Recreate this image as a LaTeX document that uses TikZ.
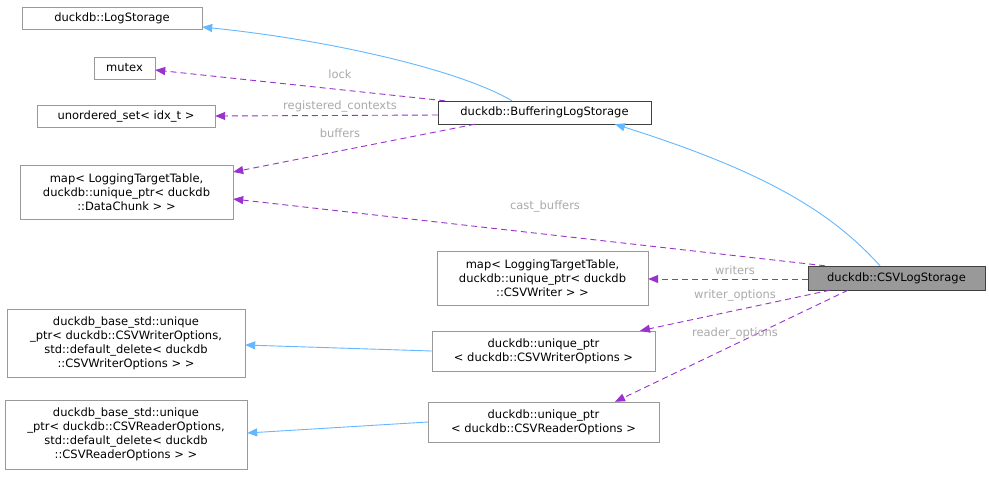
\documentclass[tikz,border=0pt]{standalone}
\usepackage{fontspec}
\setmainfont{DejaVu Sans}
\usetikzlibrary{arrows.meta}
\definecolor{ib}{RGB}{99,184,255}
\definecolor{up}{RGB}{154,50,205}
\definecolor{lg}{RGB}{170,170,170}
\begin{document}
\begin{tikzpicture}[x=1pt,y=-1pt,
  box/.style={draw=black!40,fill=white,inner sep=0pt},
  tx/.style={font=\fontsize{11.5}{14}\selectfont,align=center,inner sep=0pt},
  inh/.style={draw=ib,line width=0.9pt,-{Triangle[length=10pt,width=8pt,fill=ib]}},
  use/.style={draw=up,line width=0.9pt,dash pattern=on 6pt off 4pt,-{Triangle[length=10pt,width=8pt,fill=up]}},
  lab/.style={text=lg,font=\fontsize{11.5}{14}\selectfont,inner sep=1pt}]
\useasboundingbox[fill=white] (0,0) rectangle (989,477);
\newcommand\bx[6]{\node[box,#6,minimum width={#4-#2},minimum height={#5-#3}] (#1) at ({(#2+#4)/2},{(#3+#5)/2}) {};}
\bx{ls}{22}{7}{202}{29}{}
\node[tx] at (ls) {duckdb::LogStorage};
\bx{mu}{94}{57}{155}{79}{}
\node[tx] at (mu) {mutex};
\bx{us}{37}{105}{215}{127}{}
\node[tx] at (us) {unordered\_set< idx\_t >};
\bx{mb}{20}{165}{233}{219}{}
\node[tx] at (mb) {map< LoggingTargetTable,\\ duckdb::unique\_ptr< duckdb\\::DataChunk > >};
\bx{bl}{438}{101}{651}{124}{draw=black!75}
\node[tx] at (bl) {duckdb::BufferingLogStorage};
\bx{cs}{808}{266}{985}{290}{draw=black!75,fill=black!40}
\node[tx] at (cs) {duckdb::CSVLogStorage};
\bx{mw}{437}{251}{648}{305}{}
\node[tx] at (mw) {map< LoggingTargetTable,\\ duckdb::unique\_ptr< duckdb\\::CSVWriter > >};
\bx{wo}{432}{331}{655}{371}{}
\node[tx] at (wo) {duckdb::unique\_ptr\\< duckdb::CSVWriterOptions >};
\bx{bw}{7}{309}{245}{377}{}
\node[tx] at (bw) {duckdb\_base\_std::unique\\\_ptr< duckdb::CSVWriterOptions,\\ std::default\_delete< duckdb\\::CSVWriterOptions > >};
\bx{ro}{428}{402}{659}{442}{}
\node[tx] at (ro) {duckdb::unique\_ptr\\< duckdb::CSVReaderOptions >};
\bx{br}{5}{400}{247}{469}{}
\node[tx] at (br) {duckdb\_base\_std::unique\\\_ptr< duckdb::CSVReaderOptions,\\ std::default\_delete< duckdb\\::CSVReaderOptions > >};
% edges
\draw[inh] (bl.north -| 512,0) .. controls (460,70) and (330,40) .. (ls.east |- 0,27);
\draw[inh] (cs.north -| 880,0) .. controls (830,210) and (760,170) .. (bl.south -| 615,0);
\draw[inh] (wo.west) -- (bw.east |- 0,345);
\draw[inh] (ro.west) -- (br.east |- 0,433);
\draw[use] (bl.north -| 445,0) -- (mu.east |- 0,70);
\node[lab] at (340,74) {lock};
\draw[use] (bl.west |- 0,115) -- (us.east |- 0,116);
\node[lab] at (340,106) {registered\_contexts};
\draw[use] (bl.south -| 475,0) -- (mb.east |- 0,172);
\node[lab] at (340,133) {buffers};
\draw[use] (cs.north -| 825,0) -- (mb.east |- 0,199);
\node[lab] at (545,206) {cast\_buffers};
\draw[use] (cs.west |- 0,279) -- (mw.east |- 0,279);
\node[lab] at (735,270) {writers};
\draw[use] (cs.south -| 830,0) -- (wo.north -| 640,0);
\node[lab] at (735,295) {writer\_options};
\draw[use] (cs.south -| 848,0) -- (ro.north -| 615,0);
\node[lab] at (735,333) {reader\_options};
\end{tikzpicture}
\end{document}
